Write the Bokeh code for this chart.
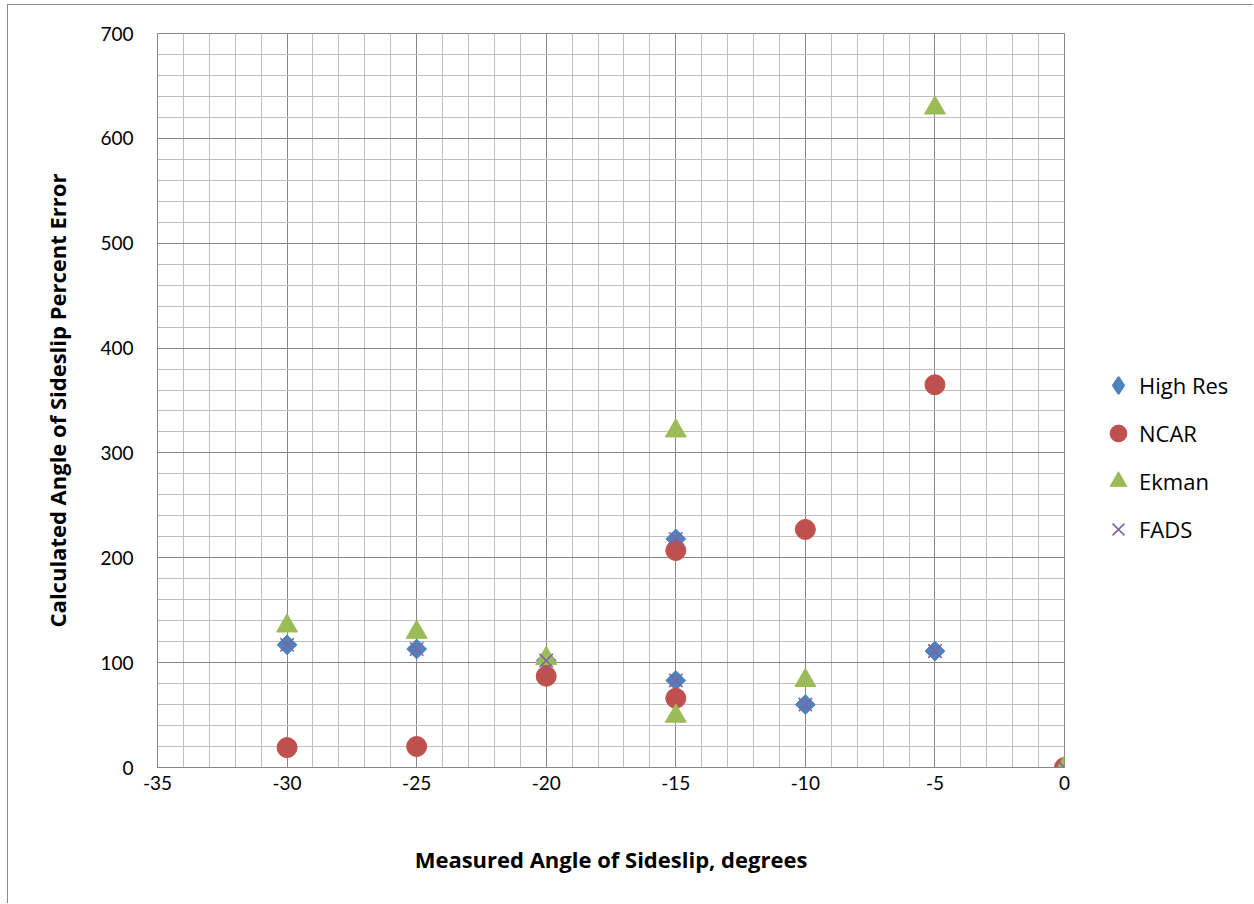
import numpy as np
from bokeh.plotting import figure
from bokeh.layouts import row
from bokeh.models import Range1d, SingleIntervalTicker, Legend, LegendItem
from bokeh.embed import file_html
from bokeh.resources import INLINE

# ---- data ----
angle_deg = [-30, -25, -20, -15, -15, -10, -5, 0]
high_res = [117, 113, 102, 83, 218, 60, 111, 0]
ncar = [19, 20, 87, 66, 207, 227, 365, 0]
ekman = [135, 129, 104, 49, 321, 83, 629, 0]
fads = [117, 113, 102, 83, 218, 60, 111, 0]

x_ticks = [-35, -30, -25, -20, -15, -10, -5, 0]
y_ticks = [0, 100, 200, 300, 400, 500, 600, 700]
series_names = ["High Res", "NCAR", "Ekman", "FADS"]
x_title = "Measured Angle of Sideslip, degrees"
y_title = "Calculated Angle of Sideslip Percent Error"

# ---- style ----
C_HR, C_NC, C_EK, C_FA = "#4F81BD", "#C0504D", "#9BBB59", "#8064A2"
MAJOR = "#868686"
MINOR = "#C0C0C0"
FONT = "Lato"
TITLE_FONT = "Open Sans"

OFF_X, OFF_Y = 8, 5                       # content origin on the page (inside the chart border)
F_L, F_R, F_T, F_B = 157, 1064, 33, 767   # frame edges in page pixels
H = 898
W1 = F_R - OFF_X + 10
W2 = 1245 - W1

p = figure(width=W1, height=H,
           x_range=Range1d(x_ticks[0], x_ticks[-1]),
           y_range=Range1d(y_ticks[0], y_ticks[-1]),
           output_backend="svg", toolbar_location=None,
           min_border_left=F_L - OFF_X, min_border_top=F_T - OFF_Y,
           min_border_right=W1 - (F_R - OFF_X), min_border_bottom=H - (F_B - OFF_Y))

p.background_fill_color = "white"
p.border_fill_color = "white"
p.outline_line_color = MAJOR
p.outline_line_width = 1

p.xaxis.ticker = SingleIntervalTicker(interval=5, num_minor_ticks=5)
p.yaxis.ticker = SingleIntervalTicker(interval=100, num_minor_ticks=5)
p.xaxis.major_label_overrides = {t: str(t) for t in x_ticks}
p.yaxis.major_label_overrides = {t: str(t) for t in y_ticks}

for g in (p.xgrid, p.ygrid):
    g.grid_line_color = MAJOR
    g.grid_line_width = 1
    g.minor_grid_line_color = MINOR
    g.minor_grid_line_width = 1
    g.level = "underlay"

for ax in (p.xaxis, p.yaxis):
    ax.axis_line_color = MAJOR
    ax.major_tick_line_color = None
    ax.minor_tick_line_color = None
    ax.major_tick_out = 0
    ax.major_tick_in = 0
    ax.major_label_text_font = FONT
    ax.major_label_text_font_size = "19px"
    ax.major_label_text_color = "black"
    ax.axis_label_text_font = TITLE_FONT
    ax.axis_label_text_font_size = "22px"
    ax.axis_label_text_font_style = "bold"
    ax.axis_label_text_color = "black"

p.xaxis.axis_label = x_title
p.yaxis.axis_label = y_title
p.xaxis.major_label_standoff = 4
p.xaxis.axis_label_standoff = 51
p.yaxis.major_label_standoff = 20
p.yaxis.axis_label_standoff = 25

p.scatter(angle_deg, high_res, marker="square", angle=np.pi / 4, size=14,
          fill_color=C_HR, line_color=C_HR)
p.scatter(angle_deg, ncar, marker="circle", size=20,
          fill_color=C_NC, line_color=C_NC)
p.scatter(angle_deg, ekman, marker="triangle", size=21,
          fill_color=C_EK, line_color=C_EK)
p.scatter(angle_deg, fads, marker="x", size=19,
          line_color=C_FA, line_width=1.6)

# ---- legend panel (a borderless companion figure holding only the legend) ----
q = figure(width=W2, height=H, x_range=Range1d(-35, 0), y_range=Range1d(0, 700),
           x_axis_location=None, y_axis_location=None,
           output_backend="svg", toolbar_location=None, min_border=0)
q.outline_line_color = None
q.background_fill_color = "white"
q.border_fill_color = "white"
q.xgrid.visible = False
q.ygrid.visible = False

k_hr = q.scatter(angle_deg, high_res, marker="diamond", size=20, fill_color=C_HR,
                 line_color=C_HR, line_width=2, visible=False)
k_nc = q.scatter(angle_deg, ncar, marker="circle", size=20, fill_color=C_NC,
                 line_color=C_NC, visible=False)
k_ek = q.scatter(angle_deg, ekman, marker="triangle", size=21, fill_color=C_EK,
                 line_color=C_EK, visible=False)
k_fa = q.scatter(angle_deg, fads, marker="x", size=19, line_color=C_FA,
                 line_width=1.6, visible=False)

BOX = 42
ROW = 48
GLYPH_CX = 1118
FIRST_CY = 385
Q_LEFT = OFF_X + W1            # page x of the legend figure
leg_top = FIRST_CY - BOX / 2
leg_bottom = leg_top + 4 * BOX + 3 * (ROW - BOX)

legend = Legend(
    items=[LegendItem(label=n, renderers=[r])
           for n, r in zip(series_names, [k_hr, k_nc, k_ek, k_fa])],
    location=(GLYPH_CX - BOX / 2 - Q_LEFT, F_B - leg_bottom),
    glyph_width=BOX, glyph_height=BOX, label_height=BOX,
    spacing=ROW - BOX,
    label_standoff=0,
    padding=0, margin=0,
    border_line_color=None, background_fill_alpha=0,
    label_text_font=TITLE_FONT, label_text_font_size="22px",
    label_text_color="black")
q.add_layout(legend)

layout = row(p, q, spacing=0)
layout.styles = {"margin-left": "7px", "margin-top": "4px",
                 "border-left": "1px solid #8A8A8A", "border-top": "1px solid #8A8A8A"}

open("out.html", "w").write(file_html(layout, INLINE))
